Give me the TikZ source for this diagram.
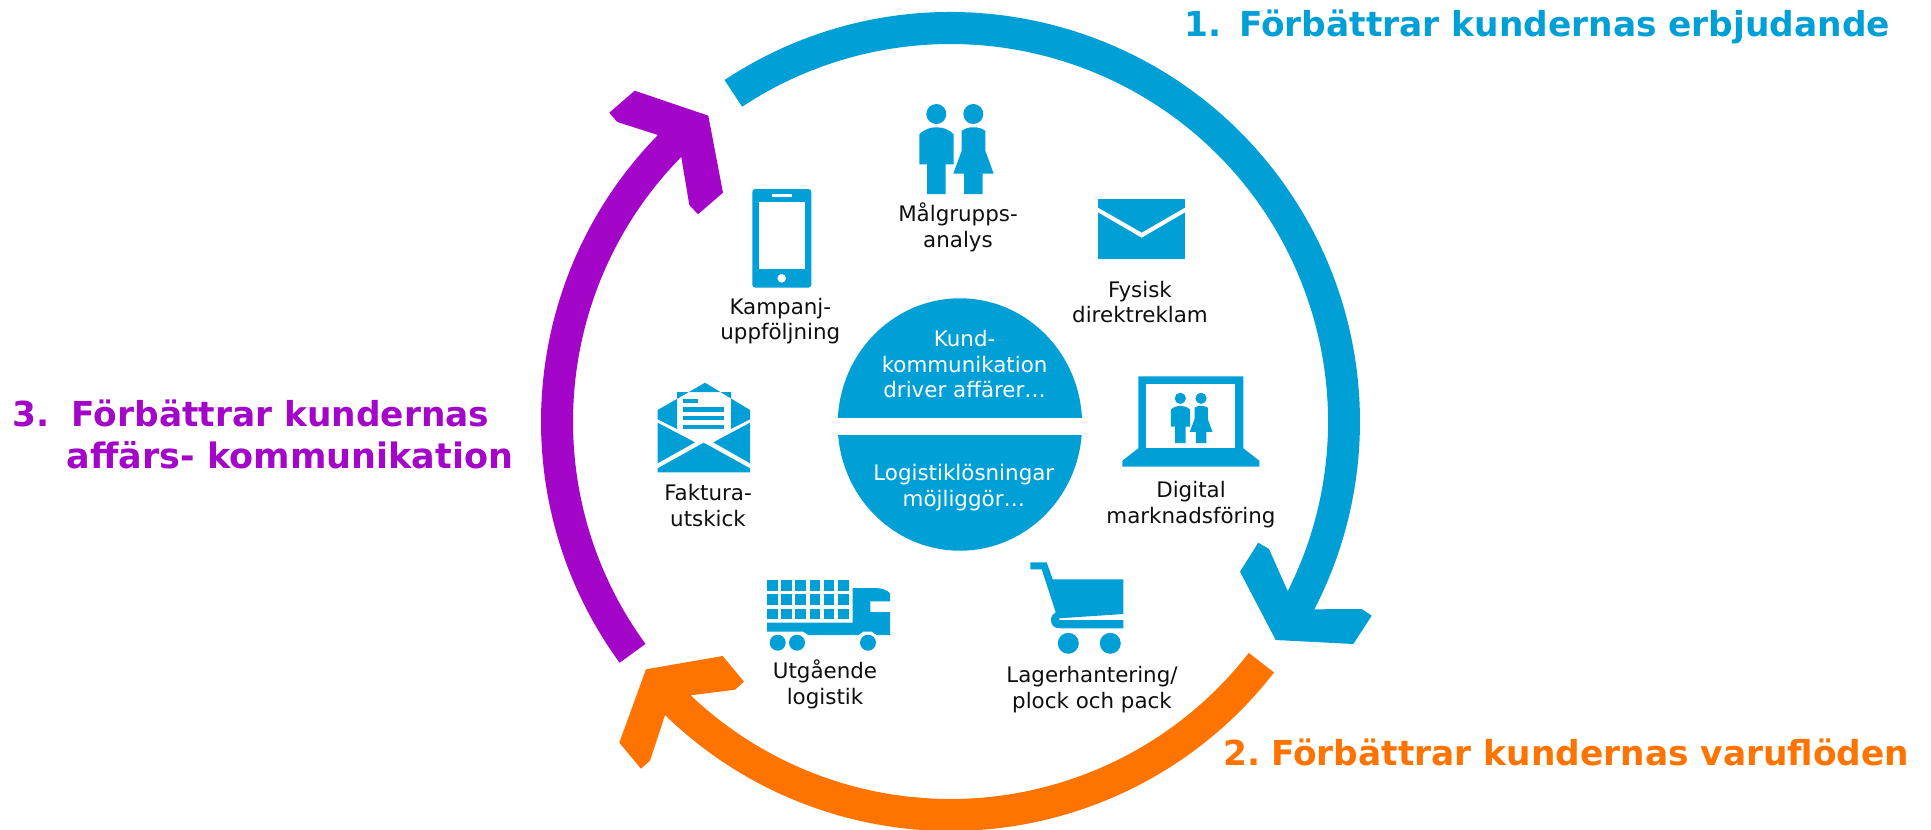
\documentclass[tikz,border=0pt]{standalone}
\usepackage{fontspec}
\setmainfont{DejaVu Sans}
\usetikzlibrary{calc}
\definecolor{cblue}{RGB}{0,160,215}
\definecolor{cpurple}{RGB}{163,5,201}
\definecolor{corange}{RGB}{255,115,0}
\definecolor{ctext}{RGB}{15,15,15}
\tikzset{
  iconfill/.style={fill=cblue,draw=none},
  lbl/.style={font=\fontsize{21.4}{25.5}\selectfont,text=ctext,align=center,inner sep=0pt,anchor=base},
  inlbl/.style={font=\fontsize{21.4}{25.7}\selectfont,text=white,align=center,inner sep=0pt,anchor=base},
  ttl/.style={font=\fontsize{34.4}{42}\selectfont\bfseries,inner sep=0pt,anchor=base west,align=left},
  ttlwide/.style={ttl,font=\fontsize{35}{42}\selectfont\bfseries},
}
\newcommand{\peopleicon}{%
  \fill[iconfill] (936.3,114) circle[radius=10pt];
  \fill[iconfill] (973.3,114) circle[radius=10pt];
  \fill[iconfill] (919.3,134.3) .. controls (925,129) and (930,127.3) .. (936.5,127.3)
     .. controls (943,127.3) and (948,129) .. (953.7,134.3) -- (953.7,164.3) -- (945.7,164.3) -- (945.7,194) -- (927,194) -- (927,164.3) -- (919.3,164.3) -- cycle;
  \fill[iconfill] (961.7,130.7) .. controls (966,128) and (969,127.3) .. (973.5,127.3)
     .. controls (978,127.3) and (981,128) .. (985.3,130.7) -- (985.3,150.7) -- (993.7,173.7) -- (982.7,173.7) -- (982.7,194) -- (964,194) -- (964,173.7) -- (953.3,173.7) -- (961.7,150.7) -- cycle;
}
\begin{document}
\begin{tikzpicture}[x=1pt,y=-1pt]
\useasboundingbox (0,0) rectangle (1931,830);
\clip (0,0) rectangle (1931,830);
\coordinate (c) at (950.5,421.5);
% ring arrows
\fill[cblue] ($(c)+(123.5:409.5pt)$) arc[start angle=123.5,end angle=-27.3,radius=409.5pt]
  -- (1361.7,609) -- (1371.7,615.7) -- (1353.3,644) -- (1275.7,640) -- (1240,571.7) -- (1258.3,542.7) -- (1269,549)
  -- ($(c)+(-26.7:377.5pt)$) arc[start angle=-26.7,end angle=123.5,radius=377.5pt] -- cycle;
\fill[corange] ($(c)+(-37.8:409.5pt)$) arc[start angle=-37.8,end angle=-134.2,radius=409.5pt]
  -- (650,760.7) -- (641,768.7) -- (619.3,742.7) -- (646,669.3) -- (722.7,656) -- (744,681.7) -- (735,689.7)
  -- ($(c)+(-133.5:377.5pt)$) arc[start angle=-133.5,end angle=-37.8,radius=377.5pt] -- cycle;
\fill[cpurple] ($(c)+(216.1:409.5pt)$) arc[start angle=216.1,end angle=135.6,radius=409.5pt]
  -- (617.3,122) -- (609.3,112.7) -- (634.7,90.7) -- (708.3,115.7) -- (723,192.7) -- (698,214.3) -- (689.3,205)
  -- ($(c)+(135.5:377.5pt)$) arc[start angle=135.5,end angle=216.1,radius=377.5pt] -- cycle;
% centre disc
\fill[cblue] (959.9,424.5) ellipse[x radius=122.2pt,y radius=126.2pt];
\fill[white] (830,417.7) rectangle (1090,435);
\node[inlbl] (kund) at (964.6,397.7) {Kund-\\kommunikation\\driver affärer…};
\node[inlbl] (logi) at (963.8,506) {Logistiklösningar\\möjliggör…};
% people icon
\peopleicon
\node[lbl] (malgrupp) at (958,247) {Målgrupps-\\analys};
% envelope
\fill[iconfill] (1098,199) rectangle (1185,259.3);
\fill[white] (1098,207.7) -- (1141.7,232.7) -- (1185,207.7) -- (1185,212.3) -- (1141.7,237.7) -- (1098,212.3) -- cycle;
\node[lbl] (fysisk) at (1140,322.7) {Fysisk\\direktreklam};
% phone
\fill[iconfill,rounded corners=3pt] (752.3,189) rectangle (811.3,287.7);
\fill[white] (759,202.3) rectangle (805,269.3);
\fill[white] (771.7,194) rectangle (792,197.3);
\fill[white] (781.7,278.3) circle[radius=4.3pt];
\node[lbl] (kampanj) at (780.3,339.5) {Kampanj-\\uppföljning};
% laptop
\fill[iconfill] (1138.3,376.3) -- (1243.3,376.3) -- (1243.3,448.3) -- (1259.3,460.7) -- (1259.3,466.7) -- (1122.3,466.7) -- (1122.3,460.7) -- (1138.3,448.3) -- cycle;
\fill[white] (1146.3,384.3) rectangle (1235.3,448);
\begin{scope}[shift={(656,334.5)},scale=.56]
\peopleicon
\end{scope}
\node[lbl] (digital) at (1191,523) {Digital\\marknadsföring};
% invoice envelope
\fill[iconfill] (705,382.7) -- (750,410) -- (750,419.3) -- (731,429) -- (731,392) -- (677,392) -- (677,429) -- (657.7,419.3) -- (657.7,410) -- cycle;
\fill[iconfill] (683.3,398.5) rectangle (698,403.3);
\fill[iconfill] (683.3,407.3) rectangle (724,411.7);
\fill[iconfill] (683.3,416) rectangle (724,420);
\fill[iconfill] (683.3,425) rectangle (724,429);
\fill[iconfill] (657.7,422.7) -- (695,442.3) -- (657.7,463.3) -- cycle;
\fill[iconfill] (750,422.7) -- (713.3,442.3) -- (750,463.3) -- cycle;
\fill[iconfill] (703.7,442.7) -- (750,468.3) -- (750,472.3) -- (657.7,472.3) -- (657.7,468.3) -- cycle;
\node[lbl] (faktura) at (708,526) {Faktura-\\utskick};
% truck
\foreach \xx in {767,781.1,795.3,809.7,823.7,838}{
  \foreach \yy in {580,594.3,608.7}{
    \fill[iconfill] (\xx,\yy) rectangle ++(10.7,10.7);
  }
}
\fill[iconfill] (767,622.7) -- (852.7,622.7) -- (852.7,588) -- (875,588) .. controls (882,588) and (887,590) .. (890,593.3) -- (890,601.3) -- (870.3,601.3) -- (870.3,612) -- (890,612) -- (890,635) -- (876.7,635) -- (871.7,631.7) -- (863.3,631.7) -- (858.3,635) -- (808.3,635) -- (803.3,631.7) -- (767,631.7) -- cycle;
\fill[iconfill] (777.7,642.7) circle[radius=8pt];
\fill[iconfill] (797,642.7) circle[radius=8pt];
\fill[iconfill] (868,642.7) circle[radius=8pt];
\node[lbl] (utg) at (825,704) {Utgående\\logistik};
% cart
\fill[iconfill] (1030.3,562.3) -- (1046.7,562.3) -- (1052.7,579.3) -- (1123.3,579.3) -- (1123.3,614) -- (1059.3,618.3) -- (1059.3,620) -- (1123.3,620) -- (1123.3,628.3) -- (1060,628.3) .. controls (1054,628.3) and (1051,625) .. (1051,620) .. controls (1051,616) and (1053,614) .. (1055.7,612.3) -- (1041.7,569.3) -- (1030.3,569.3) -- cycle;
\fill[iconfill] (1068.3,643.3) circle[radius=10.5pt];
\fill[iconfill] (1110.3,643.3) circle[radius=10.5pt];
\node[lbl] (lager) at (1092,708) {Lagerhantering/\\plock och pack};
% titles
\node[ttl,text=cblue] (t1) at (1184,36) {\makebox[55pt][l]{1.}Förbättrar kundernas erbjudande};
\node[ttl,text=corange] (t2) at (1223,765) {\makebox[48pt][l]{2.}Förbättrar kundernas varuflöden};
\node[ttl,text=cpurple] (t3a) at (12,426) {\makebox[59.5pt][l]{3.}Förbättrar kundernas};
\node[ttlwide,text=cpurple] (t3b) at (66.6,468) {affärs- kommunikation};
\end{tikzpicture}
\end{document}
